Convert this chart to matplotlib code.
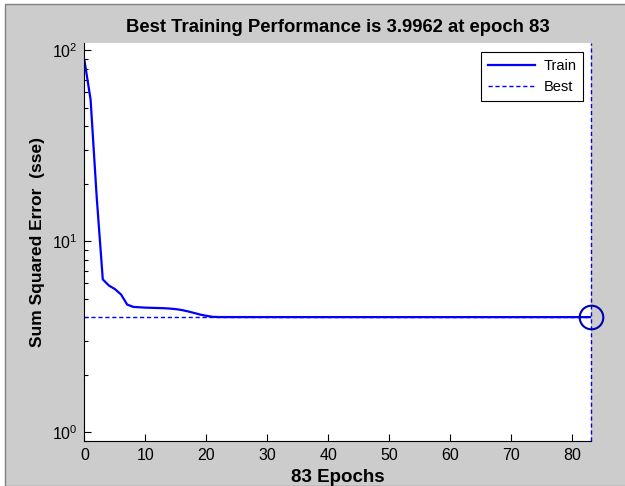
import matplotlib
matplotlib.use('Agg')
from matplotlib import pyplot as plt
from matplotlib.patches import Rectangle
from matplotlib.ticker import LogLocator, NullFormatter

# training record (sse per epoch, 0..83)
epochs = list(range(84))
train_perf = [
    88.0, 55.0, 17.0, 6.3, 5.85, 5.6, 5.25, 4.65, 4.52, 4.5,
    4.48, 4.47, 4.46, 4.45, 4.43, 4.40, 4.35, 4.28, 4.20, 4.12,
    4.06, 4.01, 4.000, 3.999, 3.9985, 3.998, 3.998, 3.9978, 3.9976, 3.9975,
    3.9974, 3.9973, 3.9972, 3.9971, 3.9970, 3.9970, 3.9969, 3.9969, 3.9968, 3.9968,
    3.9967, 3.9967, 3.9967, 3.9966, 3.9966, 3.9966, 3.9966, 3.9965, 3.9965, 3.9965,
    3.9965, 3.9964, 3.9964, 3.9964, 3.9964, 3.9964, 3.9964, 3.9963, 3.9963, 3.9963,
    3.9963, 3.9963, 3.9963, 3.9963, 3.9963, 3.9963, 3.9962, 3.9962, 3.9962, 3.9962,
    3.9962, 3.9962, 3.9962, 3.9962, 3.9962, 3.9962, 3.9962, 3.9962, 3.9962, 3.9962,
    3.9962, 3.9962, 3.9962, 3.9962,
]
best_epoch = 83
best_perf = 3.9962

plt.rcParams['font.family'] = ['Liberation Sans', 'DejaVu Sans']

fig = plt.figure(figsize=(6.25, 4.86), dpi=100)
fig.patch.set_facecolor('white')
# matlab style grey figure panel
panel = Rectangle((5 / 625, 0), 1, 1 - 4 / 486, transform=fig.transFigure,
                  facecolor='#cccccc', edgecolor='#808080', linewidth=1.0, zorder=-10)
fig.add_artist(panel)

ax = fig.add_axes([84.5 / 625, 45 / 486, 506 / 625, 398 / 486])
ax.set_zorder(1)
ax.set_facecolor('white')

ax.semilogy(epochs, train_perf, color='#0000ff', linewidth=1.6, label='Train')
ax.axhline(best_perf, color='#0000ff', linewidth=1.0, linestyle=(0, (3, 2)), label='Best')
ax.axvline(best_epoch, color='#0000ff', linewidth=1.0, linestyle=(0, (3, 2)), clip_on=False)
ax.plot([best_epoch], [best_perf], 'o', markersize=17, markerfacecolor='none',
        markeredgecolor='#0000b0', markeredgewidth=1.5, clip_on=False, zorder=5)

ax.set_xlim(0, 83)
ax.set_ylim(10 ** -0.047, 10 ** 2.037)
ax.set_xticks(range(0, 81, 10))
ax.yaxis.set_major_locator(LogLocator(base=10, numticks=5))
ax.yaxis.set_minor_locator(LogLocator(base=10, subs=range(2, 10), numticks=20))
ax.yaxis.set_minor_formatter(NullFormatter())

for side in ['top', 'right']:
    ax.spines[side].set_visible(False)
ax.tick_params(direction='in', length=5, width=0.8, labelsize=11.5, pad=5)
ax.tick_params(which='minor', direction='in', length=3, width=0.8)

ax.set_title('Best Training Performance is 3.9962 at epoch 83', fontsize=13.3,
             fontweight='bold', pad=8)
ax.set_xlabel('83 Epochs', fontsize=13.5, fontweight='bold', labelpad=4)
ax.set_ylabel('Sum Squared Error  (sse)', fontsize=12.5, fontweight='bold', labelpad=5)

leg = ax.legend(loc='upper right', bbox_to_anchor=(0.985, 0.977), borderaxespad=0,
                fontsize=10.5, fancybox=False, framealpha=1, edgecolor='black',
                handlelength=3.2, handletextpad=0.6, borderpad=0.45, labelspacing=0.5)
leg.get_frame().set_linewidth(0.8)

fig.savefig('out.png', dpi=100, facecolor=fig.get_facecolor())
